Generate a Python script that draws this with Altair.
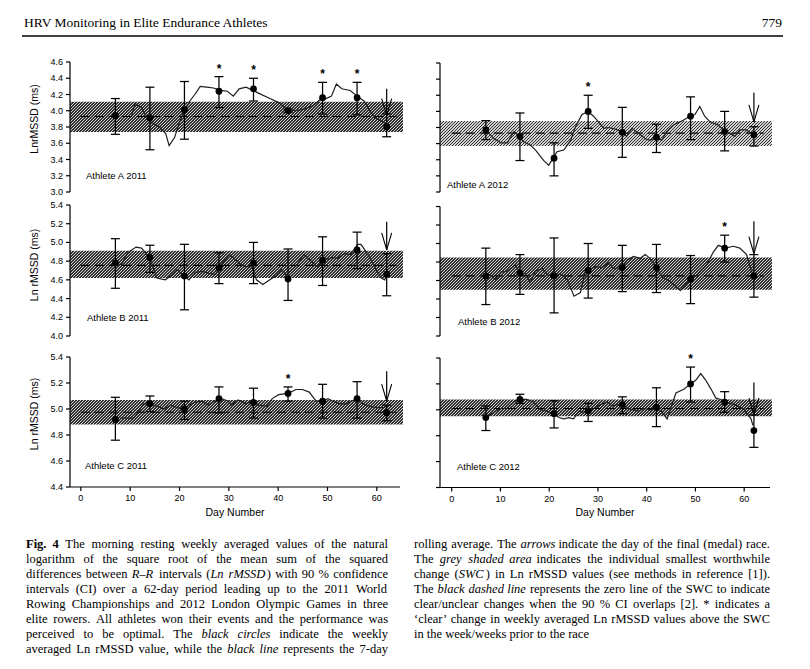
import altair as alt
import pandas as pd

CH_W, CH_H = 794, 650

# ---------------- data ----------------
WEEK_DAYS = [7, 14, 21, 28, 35, 42, 49, 56, 62]
X_TICKS = [0, 10, 20, 30, 40, 50, 60]
A_TICKS = [3.0, 3.2, 3.4, 3.6, 3.8, 4.0, 4.2, 4.4, 4.6]
B_TICKS = [4.0, 4.2, 4.4, 4.6, 4.8, 5.0, 5.2, 5.4]
C_TICKS = [4.4, 4.6, 4.8, 5.0, 5.2, 5.4]

# Athlete A 2011
A11_MEAN = [3.94, 3.91, 4.01, 4.24, 4.27, 4.00, 4.16, 4.16, 3.80]
A11_LO = [3.71, 3.52, 3.65, 4.04, 4.12, 3.98, 3.96, 3.95, 3.68]
A11_HI = [4.15, 4.29, 4.36, 4.42, 4.40, 4.02, 4.35, 4.35, 3.96]
A11_ROLL_DAY = [10.3, 11.0, 12.4, 13.8, 15.9, 17.2, 17.9, 19.0, 20.0, 21.0,
                22.1, 23.1, 24.2, 25.5, 26.9, 28.3, 29.7, 30.9, 32.1, 33.5,
                34.9, 35.9, 38.0, 40.1, 41.8, 43.5, 45.3, 47.0, 48.4, 49.4,
                50.8, 51.8, 52.9, 54.6, 56.0, 57.4, 58.4, 59.5, 60.8, 62.0]
A11_ROLL = [3.95, 4.09, 4.03, 3.88, 3.80, 3.72, 3.57, 3.67, 3.86, 4.00,
            4.12, 4.20, 4.30, 4.29, 4.28, 4.25, 4.24, 4.18, 4.27, 4.29,
            4.25, 4.22, 4.16, 4.10, 4.02, 4.00, 4.02, 4.06, 4.13, 4.14,
            4.18, 4.33, 4.27, 4.25, 4.18, 4.12, 4.02, 3.92, 3.88, 3.83]
A11_SWC = [3.74, 4.11]
A11_ZERO = 3.93
A11_STARS = [28, 35, 49, 56]
A11_ARROW = [4.27, 3.94]

# Athlete A 2012
A12_MEAN = [3.77, 3.69, 3.42, 4.00, 3.74, 3.68, 3.94, 3.75, 3.71]
A12_LO = [3.65, 3.39, 3.20, 3.79, 3.43, 3.49, 3.65, 3.51, 3.57]
A12_HI = [3.885, 3.98, 3.61, 4.20, 4.05, 3.84, 4.18, 4.00, 3.81]
A12_ROLL_DAY = [7.0, 8.7, 10.1, 11.4, 12.8, 13.8, 14.8, 16.2, 17.2, 18.9,
                19.9, 20.8, 21.6, 23.0, 24.4, 25.4, 26.7, 27.9, 29.1, 30.1,
                31.2, 32.2, 33.5, 34.8, 35.9, 37.0, 38.3, 39.7, 40.7, 41.9,
                43.1, 44.1, 45.5, 47.5, 48.9, 49.9, 50.9, 51.9, 53.0, 54.7,
                55.8, 57.0, 58.1, 59.1, 60.4, 61.5]
A12_ROLL = [3.77, 3.66, 3.61, 3.61, 3.75, 3.69, 3.62, 3.58, 3.52, 3.39,
            3.33, 3.42, 3.50, 3.52, 3.64, 3.81, 3.96, 4.00, 3.94, 3.87,
            3.79, 3.80, 3.78, 3.75, 3.69, 3.79, 3.73, 3.66, 3.64, 3.68,
            3.64, 3.75, 3.83, 3.89, 3.94, 3.96, 4.06, 3.94, 3.87, 3.83,
            3.77, 3.73, 3.69, 3.77, 3.77, 3.73]
A12_SWC = [3.57, 3.88]
A12_ZERO = 3.73
A12_STARS = [28]
A12_ARROW = [4.23, 3.87]

# Athlete B 2011
B11_MEAN = [4.78, 4.84, 4.64, 4.73, 4.78, 4.61, 4.81, 4.92, 4.66]
B11_LO = [4.51, 4.68, 4.28, 4.56, 4.56, 4.38, 4.54, 4.72, 4.43]
B11_HI = [5.04, 4.97, 4.98, 4.89, 5.00, 4.93, 5.06, 5.11, 4.88]
B11_ROLL_DAY = [7.0, 8.2, 9.5, 11.2, 12.3, 14.0, 15.4, 17.1, 18.4, 19.5,
                20.8, 21.9, 23.2, 24.6, 26.0, 27.3, 28.4, 30.1, 31.5, 32.5,
                33.5, 34.7, 35.6, 36.9, 38.3, 39.7, 40.7, 41.6, 42.8, 43.8,
                45.2, 46.5, 47.9, 49.3, 51.0, 52.0, 53.4, 54.7, 56.1, 56.8,
                58.2, 59.5, 60.9, 61.6, 62.0]
B11_ROLL = [4.78, 4.76, 4.89, 4.95, 4.94, 4.83, 4.62, 4.60, 4.65, 4.71,
            4.65, 4.60, 4.68, 4.69, 4.67, 4.66, 4.76, 4.87, 4.81, 4.76,
            4.74, 4.74, 4.60, 4.55, 4.60, 4.65, 4.71, 4.65, 4.71, 4.76,
            4.87, 4.81, 4.74, 4.81, 4.84, 4.83, 4.88, 4.87, 4.98, 4.98,
            4.87, 4.74, 4.62, 4.60, 4.67]
B11_SWC = [4.62, 4.91]
B11_ZERO = 4.755
B11_STARS = []
B11_ARROW = [5.22, 4.92]

# Athlete B 2012
B12_MEAN = [4.65, 4.68, 4.65, 4.71, 4.74, 4.74, 4.62, 4.95, 4.65]
B12_LO = [4.34, 4.45, 4.25, 4.41, 4.48, 4.47, 4.35, 4.80, 4.42]
B12_HI = [4.95, 4.88, 5.06, 5.00, 4.98, 4.99, 4.87, 5.09, 4.88]
B12_ROLL_DAY = [7.0, 8.0, 9.0, 10.1, 11.4, 13.1, 14.0, 15.2, 16.1, 17.2,
                18.6, 19.6, 21.1, 22.3, 23.7, 25.1, 26.4, 27.4, 28.0, 29.5,
                30.9, 32.2, 33.2, 35.0, 36.0, 37.3, 38.7, 39.7, 40.7, 42.0,
                43.1, 44.2, 45.5, 46.9, 47.9, 49.1, 50.3, 52.3, 53.7, 54.7,
                56.1, 57.8, 59.1, 60.5, 61.5, 62.0]
B12_ROLL = [4.65, 4.66, 4.61, 4.69, 4.70, 4.77, 4.68, 4.67, 4.58, 4.70,
            4.73, 4.66, 4.65, 4.67, 4.61, 4.43, 4.47, 4.70, 4.71, 4.75,
            4.74, 4.79, 4.73, 4.74, 4.82, 4.86, 4.84, 4.88, 4.84, 4.74,
            4.64, 4.61, 4.56, 4.49, 4.55, 4.62, 4.66, 4.77, 4.91, 4.98,
            4.95, 4.97, 4.95, 4.88, 4.70, 4.65]
B12_SWC = [4.50, 4.85]
B12_ZERO = 4.65
B12_STARS = [56]
B12_ARROW = [5.24, 4.89]

# Athlete C 2011
C11_MEAN = [4.92, 5.04, 5.00, 5.08, 5.05, 5.12, 5.06, 5.08, 4.97]
C11_LO = [4.76, 4.98, 4.92, 4.97, 4.93, 5.06, 4.93, 4.93, 4.91]
C11_HI = [5.09, 5.10, 5.06, 5.17, 5.16, 5.17, 5.19, 5.21, 5.03]
C11_ROLL_DAY = [8.0, 9.3, 10.7, 11.7, 12.7, 13.9, 15.5, 16.9, 18.2, 19.6,
                20.8, 22.0, 23.0, 24.4, 25.8, 27.1, 28.5, 29.9, 30.5, 31.9,
                33.3, 34.9, 36.0, 37.7, 38.8, 40.1, 42.0, 43.6, 44.9, 46.3,
                47.7, 49.0, 50.1, 51.1, 52.4, 53.8, 54.8, 56.0, 57.2, 58.6,
                60.0, 61.3, 62.0]
C11_ROLL = [4.93, 4.93, 4.93, 4.98, 5.04, 5.04, 5.02, 5.00, 5.03, 5.01,
            5.00, 5.03, 5.05, 5.06, 5.03, 5.06, 5.08, 5.06, 5.03, 5.07,
            5.04, 5.06, 5.03, 5.02, 5.08, 5.11, 5.12, 5.15, 5.15, 5.13,
            5.06, 5.06, 5.08, 5.06, 5.04, 5.04, 5.06, 5.08, 5.04, 5.02,
            5.01, 5.01, 5.02]
C11_SWC = [4.88, 5.07]
C11_ZERO = 4.975
C11_STARS = [42]
C11_ARROW = [5.29, 5.06]

# Athlete C 2012
C12_MEAN = [4.94, 5.08, 4.97, 4.99, 5.04, 5.02, 5.20, 5.06, 4.84]
C12_LO = [4.84, 5.05, 4.86, 4.91, 4.97, 4.87, 5.06, 4.98, 4.71]
C12_HI = [5.03, 5.12, 5.07, 5.05, 5.10, 5.17, 5.33, 5.14, 4.96]
C12_ROLL_DAY = [7.0, 8.6, 9.9, 11.3, 12.7, 13.9, 15.4, 16.8, 18.2, 19.6,
                20.9, 22.0, 23.0, 24.0, 25.0, 26.1, 27.1, 28.0, 29.2, 30.5,
                31.9, 32.9, 34.0, 35.0, 36.0, 37.4, 38.4, 39.4, 40.8, 42.0,
                43.2, 44.2, 44.9, 46.0, 47.7, 49.0, 50.1, 51.1, 52.1, 53.2,
                54.2, 55.2, 56.0, 57.3, 58.6, 60.0, 61.4, 61.8]
C12_ROLL = [4.94, 4.98, 5.01, 5.01, 5.06, 5.08, 5.08, 5.06, 5.00, 4.99,
            4.97, 4.94, 4.93, 4.94, 4.93, 4.99, 4.98, 4.99, 5.01, 5.04,
            5.06, 5.03, 5.04, 5.04, 5.01, 5.00, 4.99, 5.01, 5.00, 5.02,
            4.98, 4.93, 5.01, 5.13, 5.16, 5.20, 5.23, 5.28, 5.23, 5.16,
            5.09, 5.08, 5.06, 5.05, 5.03, 5.00, 4.93, 4.88]
C12_SWC = [4.95, 5.08]
C12_ZERO = 5.01
C12_STARS = [49]
C12_ARROW = [5.21, 4.96]

HEADER_LEFT = "HRV Monitoring in Elite Endurance Athletes"
HEADER_RIGHT = "779"
# [..] = bold, {..} = italic
CAPTION_LEFT = [
    "[Fig. 4] The morning resting weekly averaged values of the natural",
    "logarithm of the square root of the mean sum of the squared",
    "differences between {R–R} intervals ({Ln rMSSD}) with 90 % confidence",
    "intervals (CI) over a 62-day period leading up to the 2011 World",
    "Rowing Championships and 2012 London Olympic Games in three",
    "elite rowers. All athletes won their events and the performance was",
    "perceived to be optimal. The {black circles} indicate the weekly",
    "averaged Ln rMSSD value, while the {black line} represents the 7-day",
]
CAPTION_RIGHT = [
    "rolling average. The {arrows} indicate the day of the final (medal) race.",
    "The {grey shaded area} indicates the individual smallest worthwhile",
    "change ({SWC}) in Ln rMSSD values (see methods in reference [[1]]).",
    "The {black dashed line} represents the zero line of the SWC to indicate",
    "clear/unclear changes when the 90 % CI overlaps [[2]]. * indicates a",
    "‘clear’ change in weekly averaged Ln rMSSD values above the SWC",
    "in the week/weeks prior to the race",
]

SANS = "Liberation Sans"
SERIF = "Liberation Serif"

# ---------------- layout (chart pixel coords) ----------------
LEFT = dict(xdom=[-2.2, 64.7], xrng=[62, 392], band_end=65.3)
RIGHT = dict(xdom=[-2.4, 65.3], xrng=[432, 762], band_end=65.7)

PANELS = [
    dict(col=LEFT, ydom=[3.0, 4.6], yrng=[184, 54], ticks=A_TICKS, ylab=True,
         ytitle="LnrMSSD (ms)", title_y=111, xaxis=False,
         mean=A11_MEAN, lo=A11_LO, hi=A11_HI, rd=A11_ROLL_DAY, rv=A11_ROLL,
         swc=A11_SWC, zero=A11_ZERO, stars=A11_STARS, arrow=A11_ARROW,
         label="Athlete A 2011", lpos=(78, 168)),
    dict(col=RIGHT, ydom=[3.0, 4.6], yrng=[184, 55], ticks=A_TICKS, ylab=False,
         xaxis=False,
         mean=A12_MEAN, lo=A12_LO, hi=A12_HI, rd=A12_ROLL_DAY, rv=A12_ROLL,
         swc=A12_SWC, zero=A12_ZERO, stars=A12_STARS, arrow=A12_ARROW,
         label="Athlete A 2012", lpos=(439, 177)),
    dict(col=LEFT, ydom=[4.0, 5.4], yrng=[328, 197], ticks=B_TICKS, ylab=True,
         ytitle="Ln rMSSD (ms)", title_y=257, xaxis=False,
         mean=B11_MEAN, lo=B11_LO, hi=B11_HI, rd=B11_ROLL_DAY, rv=B11_ROLL,
         swc=B11_SWC, zero=B11_ZERO, stars=B11_STARS, arrow=B11_ARROW,
         label="Athlete B 2011", lpos=(79, 310)),
    dict(col=RIGHT, ydom=[4.0, 5.4], yrng=[328, 198.5], ticks=B_TICKS, ylab=False,
         xaxis=False,
         mean=B12_MEAN, lo=B12_LO, hi=B12_HI, rd=B12_ROLL_DAY, rv=B12_ROLL,
         swc=B12_SWC, zero=B12_ZERO, stars=B12_STARS, arrow=B12_ARROW,
         label="Athlete B 2012", lpos=(450, 314)),
    dict(col=LEFT, ydom=[4.4, 5.4], yrng=[479, 349], ticks=C_TICKS, ylab=True,
         ytitle="Ln rMSSD (ms)", title_y=406, xaxis=True,
         mean=C11_MEAN, lo=C11_LO, hi=C11_HI, rd=C11_ROLL_DAY, rv=C11_ROLL,
         swc=C11_SWC, zero=C11_ZERO, stars=C11_STARS, arrow=C11_ARROW,
         label="Athlete C 2011", lpos=(77, 458)),
    dict(col=RIGHT, ydom=[4.4, 5.4], yrng=[479.5, 350], ticks=C_TICKS, ylab=False,
         xaxis=True,
         mean=C12_MEAN, lo=C12_LO, hi=C12_HI, rd=C12_ROLL_DAY, rv=C12_ROLL,
         swc=C12_SWC, zero=C12_ZERO, stars=C12_STARS, arrow=C12_ARROW,
         label="Athlete C 2012", lpos=(449, 459)),
]


def hatch(wpx, hpx, period=3.0, dark="#303030", light="#d2d2d2", frac=0.58):
    L = wpx + hpx
    r = hpx / wpx
    a = L / (wpx * (1 + r * r))
    stops = []
    i = 0
    while i * period / L < 1:
        t0 = i * period / L
        t1 = min((i + frac) * period / L, 1.0)
        t2 = min((i + 1) * period / L, 1.0)
        stops += [(t0, dark), (t1, dark), (t1, light), (t2, light)]
        i += 1
    return {"gradient": "linear", "x1": 0, "y1": 0, "x2": a, "y2": a * r,
            "stops": [{"offset": round(o, 5), "color": c} for o, c in stops]}


def build_panel(p):
    col = p["col"]
    xd, xr = col["xdom"], col["xrng"]
    yd, yr = p["ydom"], p["yrng"]
    xs = alt.Scale(domain=xd, range=xr, nice=False, zero=False)
    ys = alt.Scale(domain=yd, range=yr, nice=False, zero=False)

    X = lambda f: alt.X(f, type="quantitative", scale=xs, axis=None)
    Y = lambda f: alt.Y(f, type="quantitative", scale=ys, axis=None)
    XD = lambda v: alt.XDatum(v, type="quantitative", scale=xs, axis=None)
    YD = lambda v: alt.YDatum(v, type="quantitative", scale=ys, axis=None)

    def px_x(v):
        return xr[0] + (v - xd[0]) / (xd[1] - xd[0]) * (xr[1] - xr[0])

    band_w = px_x(col["band_end"]) - xr[0]
    band_h = (p["swc"][1] - p["swc"][0]) / (yd[1] - yd[0]) * (yr[0] - yr[1])

    one = pd.DataFrame({"k": [0]})

    band_df = pd.DataFrame({"lo": [p["swc"][0]], "hi": [p["swc"][1]]})
    band = alt.Chart(band_df).mark_rect(fill=hatch(band_w, band_h)).encode(
        x=XD(xd[0]), x2=alt.X2Datum(col["band_end"]), y=Y("lo"), y2="hi")

    zero_df = pd.DataFrame({"zero": [p["zero"]]})
    dash = alt.Chart(zero_df).mark_rule(color="black", strokeWidth=1.1,
                                        strokeDash=[9, 5]).encode(
        x=XD(0.0), x2=alt.X2Datum(64.0), y=Y("zero"))

    wk = pd.DataFrame({"day": WEEK_DAYS, "mean": p["mean"], "lo": p["lo"], "hi": p["hi"]})
    err = alt.Chart(wk).mark_rule(color="black", strokeWidth=1.25).encode(
        x=X("day"), y=Y("lo"), y2="hi")
    cap_lo = alt.Chart(wk).mark_tick(orient="horizontal", size=9, thickness=1.25,
                                     color="black", opacity=1).encode(x=X("day"), y=Y("lo"))
    cap_hi = alt.Chart(wk).mark_tick(orient="horizontal", size=9, thickness=1.25,
                                     color="black", opacity=1).encode(x=X("day"), y=Y("hi"))

    roll_df = pd.DataFrame({"day": p["rd"], "val": p["rv"]})
    roll = alt.Chart(roll_df).mark_line(color="#1e1e1e", strokeWidth=1.2).encode(
        x=X("day"), y=Y("val"))

    pts = alt.Chart(wk).mark_circle(size=46, color="black", opacity=1).encode(
        x=X("day"), y=Y("mean"))

    layers = [band, dash, roll, err, cap_lo, cap_hi, pts]

    if p["stars"]:
        st = wk[wk["day"].isin(p["stars"])]
        stars = alt.Chart(st).mark_text(text="*", font=SANS, fontSize=12,
                                        fontWeight="bold", color="black",
                                        baseline="alphabetic", dy=-4).encode(
            x=X("day"), y=Y("hi"))
        layers.append(stars)

    arr = pd.DataFrame({"day": [WEEK_DAYS[-1]], "top": [p["arrow"][0]], "tip": [p["arrow"][1]]})
    shaft = alt.Chart(arr).mark_rule(color="black", strokeWidth=1.2).encode(
        x=X("day"), y=Y("top"), y2="tip")
    arm_l = alt.Chart(arr).mark_rule(color="black", strokeWidth=1.1,
                                     xOffset=-5, yOffset=-17).encode(
        x=X("day"), y=Y("tip"), x2="day", y2="tip")
    arm_r = alt.Chart(arr).mark_rule(color="black", strokeWidth=1.1,
                                     xOffset=5, yOffset=-17).encode(
        x=X("day"), y=Y("tip"), x2="day", y2="tip")
    layers += [shaft, arm_l, arm_r]

    # ----- y axis (drawn from the tick list through the panel scales) -----
    ydom_line = alt.Chart(one).mark_rule(color="black", strokeWidth=1.2).encode(
        x=XD(xd[0]), y=YD(yd[0]), y2=alt.Y2Datum(yd[1]))
    tick_df = pd.DataFrame({"v": p["ticks"], "lab": [f"{t:.1f}" for t in p["ticks"]]})
    yticks = alt.Chart(tick_df).mark_rule(color="black", strokeWidth=1.2,
                                          x2Offset=-4).encode(
        x=XD(xd[0]), x2=alt.X2Datum(xd[0]), y=Y("v"))
    layers += [ydom_line, yticks]
    if p["ylab"]:
        ylabels = alt.Chart(tick_df).mark_text(font=SANS, fontSize=9, color="black",
                                               align="right", baseline="middle",
                                               dx=-7).encode(
            x=XD(xd[0]), y=Y("v"), text="lab:N")
        ttl = pd.DataFrame({"t": [p["ytitle"]]})
        ytitle = alt.Chart(ttl).mark_text(font=SANS, fontSize=10.5, color="black",
                                          angle=270, align="center",
                                          baseline="middle").encode(
            x=alt.value(27), y=alt.value(p["title_y"]), text="t:N")
        layers += [ylabels, ytitle]

    # ----- x axis (bottom row only) -----
    if p["xaxis"]:
        xdom_line = alt.Chart(one).mark_rule(color="black", strokeWidth=1.2).encode(
            x=XD(xd[0]), x2=alt.X2Datum(xd[1]), y=YD(yd[0]))
        xt_df = pd.DataFrame({"v": X_TICKS, "lab": [str(t) for t in X_TICKS]})
        xticks = alt.Chart(xt_df).mark_rule(color="black", strokeWidth=1.2,
                                            y2Offset=4).encode(
            x=X("v"), y=YD(yd[0]), y2=alt.Y2Datum(yd[0]))
        xlabels = alt.Chart(xt_df).mark_text(font=SANS, fontSize=9, color="black",
                                             align="center", baseline="middle",
                                             dy=11).encode(
            x=X("v"), y=YD(yd[0]), text="lab:N")
        xt = pd.DataFrame({"t": ["Day Number"]})
        xtitle = alt.Chart(xt).mark_text(font=SANS, fontSize=10.5, color="black",
                                         align="center", baseline="middle").encode(
            x=alt.value((xr[0] + xr[1]) / 2), y=alt.value(505), text="t:N")
        layers += [xdom_line, xticks, xlabels, xtitle]

    lab_df = pd.DataFrame({"label": [p["label"]]})
    lab = alt.Chart(lab_df).mark_text(font=SANS, fontSize=9.5, color="black",
                                      align="left", baseline="middle").encode(
        x=alt.value(p["lpos"][0]), y=alt.value(p["lpos"][1]), text="label:N")
    layers.append(lab)

    return alt.layer(*layers)


panels = [build_panel(p) for p in PANELS]

# ---------------- header ----------------
hdr_df = pd.DataFrame({"left": [HEADER_LEFT], "right": [HEADER_RIGHT]})
hdr_l = alt.Chart(hdr_df).mark_text(font=SERIF, fontSize=13.5, color="black",
                                    align="left", baseline="middle").encode(
    x=alt.value(16), y=alt.value(15), text="left:N")
hdr_r = alt.Chart(hdr_df).mark_text(font=SERIF, fontSize=13.5, color="black",
                                    align="right", baseline="middle").encode(
    x=alt.value(774), y=alt.value(15), text="right:N")
hdr_rule = alt.Chart(hdr_df).mark_rule(color="black", strokeWidth=1.3).encode(
    x=alt.value(14), x2=alt.value(775), y=alt.value(28))
header = alt.layer(hdr_l, hdr_r, hdr_rule)

# ---------------- caption (justified, word by word) ----------------
TW = {" ": 250, "%": 833, "(": 333, ")": 333, "*": 500, ",": 250, "-": 333, ".": 250,
      "/": 278, ":": 278, "[": 333, "]": 333, "–": 500, "‘": 333, "’": 333,
      "A": 722, "B": 667, "C": 667, "D": 722, "E": 611, "F": 556, "G": 722, "H": 722,
      "I": 333, "J": 389, "K": 722, "L": 611, "M": 889, "N": 722, "O": 722, "P": 556,
      "Q": 722, "R": 667, "S": 556, "T": 611, "U": 722, "V": 722, "W": 944, "X": 722,
      "Y": 722, "Z": 611,
      "a": 444, "b": 500, "c": 444, "d": 500, "e": 444, "f": 333, "g": 500, "h": 500,
      "i": 278, "j": 278, "k": 500, "l": 278, "m": 778, "n": 500, "o": 500, "p": 500,
      "q": 500, "r": 333, "s": 389, "t": 278, "u": 500, "v": 500, "w": 722, "x": 500,
      "y": 500, "z": 444}
CAP_SIZE = 12.5


def parse(line):
    chars = []
    italic = bold = False
    i = 0
    while i < len(line):
        ch = line[i]
        if line[i:i + 2] in ("[[", "]]"):
            chars.append((ch, italic, bold))
            i += 2
            continue
        if ch == "{":
            italic = True
        elif ch == "}":
            italic = False
        elif ch == "[":
            bold = True
        elif ch == "]":
            bold = False
        else:
            chars.append((ch, italic, bold))
        i += 1
    return chars


def layout_lines(lines, x0, x1, justify_last):
    rows = []
    for li, line in enumerate(lines):
        chars = parse(line)
        words, cur = [], []
        for c in chars:
            if c[0] == " ":
                if cur:
                    words.append(cur)
                cur = []
            else:
                cur.append(c)
        if cur:
            words.append(cur)
        widths = [sum(TW.get(c[0], 500) for c in w) / 1000 * CAP_SIZE for w in words]
        last = li == len(lines) - 1
        if last and not justify_last:
            gap = TW[" "] / 1000 * CAP_SIZE
        else:
            gap = (x1 - x0 - sum(widths)) / max(len(words) - 1, 1)
        x = x0
        for w, wd in zip(words, widths):
            pieces = []
            for c in w:
                if pieces and pieces[-1][1:] == (c[1], c[2]):
                    pieces[-1] = (pieces[-1][0] + c[0], c[1], c[2])
                else:
                    pieces.append((c[0], c[1], c[2]))
            px = x
            for txt, it, bd in pieces:
                style = "bold" if bd else ("italic" if it else "roman")
                rows.append({"x": px, "line": li, "text": txt, "style": style})
                px += sum(TW.get(ch, 500) for ch in txt) / 1000 * CAP_SIZE
            x += wd + gap
    return rows


cap_rows = layout_lines(CAPTION_LEFT, 18, 380, True) + layout_lines(CAPTION_RIGHT, 406, 762, False)
cap_df = pd.DataFrame(cap_rows)
LINE_Y = alt.Scale(domain=[0, 7], range=[535.5, 640.5])
PIX_X = alt.Scale(domain=[0, CH_W], range=[0, CH_W])


def cap_layer(style, **kw):
    return alt.Chart(cap_df[cap_df["style"] == style]).mark_text(
        font=SERIF, fontSize=CAP_SIZE, color="black", align="left",
        baseline="middle", **kw).encode(
        x=alt.X("x:Q", scale=PIX_X, axis=None),
        y=alt.Y("line:Q", scale=LINE_Y, axis=None),
        text="text:N")


caption = alt.layer(cap_layer("roman"), cap_layer("italic", fontStyle="italic"),
                    cap_layer("bold", fontWeight="bold"))

chart = alt.layer(*panels, caption, header).resolve_scale(
    x="independent", y="independent"
).properties(
    width=CH_W, height=CH_H,
    autosize=alt.AutoSizeParams(type="none"),
    padding=0,
).configure_view(stroke=None)

chart.save("out.html", embed_options={"renderer": "svg", "actions": False})
